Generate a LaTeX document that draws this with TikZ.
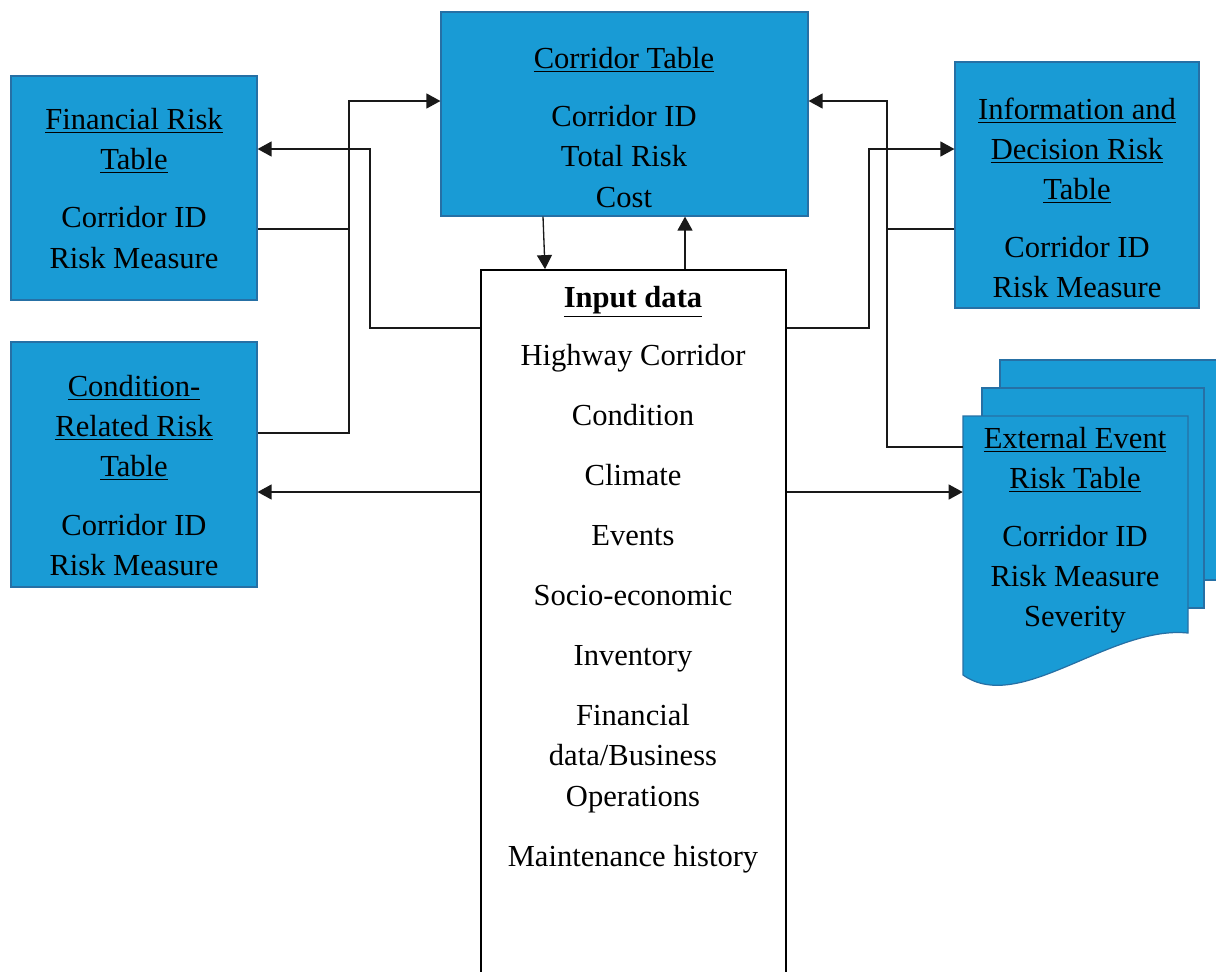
\documentclass[tikz,border=0pt]{standalone}
\usepackage{fontspec}
\setmainfont{Liberation Serif}
\usetikzlibrary{arrows.meta}
\definecolor{tblfill}{RGB}{25,155,213}
\definecolor{tbledge}{RGB}{38,112,165}
\begin{document}
\begin{tikzpicture}[x=0.02cm,y=-0.02cm,
  tbl/.style={draw=tbledge, fill=tblfill, line width=0.7pt, inner sep=0pt},
  txt/.style={align=center, font=\fontsize{17.4}{22.8}\selectfont, inner sep=0pt},
  conn/.style={draw=black!90, line width=0.75pt},
  arr/.style={conn, -{Triangle[length=0.28cm,width=0.3cm]}},
]
\useasboundingbox (0,0) rectangle (1216,971);
\clip (0,0) rectangle (1216,971);

% risk tables
\node[tbl, minimum width=4.92cm, minimum height=4.48cm] (fin) at (134,188) {};
\node[txt] (fintxt) at (134,188.5) {\underline{Financial Risk}\\\underline{Table}\\[0.36cm]Corridor ID\\Risk Measure};

\node[tbl, minimum width=4.92cm, minimum height=4.9cm] (cond) at (134,464.5) {};
\node[txt] (condtxt) at (134,475.5) {\underline{Condition-}\\\underline{Related Risk}\\\underline{Table}\\[0.36cm]Corridor ID\\Risk Measure};

\node[tbl, minimum width=7.34cm, minimum height=4.08cm] (cor) at (624.5,114) {};
\node[txt] (cortxt) at (624,127.5) {\underline{Corridor Table}\\[0.36cm]Corridor ID\\Total Risk\\Cost};

\node[tbl, minimum width=4.88cm, minimum height=4.92cm] (info) at (1077,185) {};
\node[txt] (infotxt) at (1077,198) {\underline{Information and}\\\underline{Decision Risk}\\\underline{Table}\\[0.36cm]Corridor ID\\Risk Measure};

% input data
\node[draw=black, line width=1.1pt, fill=white, minimum width=6.1cm, minimum height=14.6cm, inner sep=0pt] (inp) at (633.5,635) {};
\node[txt] (inptxt) at (633,579.5) {\textbf{\underline{Input data}}\\[0.36cm]Highway Corridor\\[0.4cm]Condition\\[0.4cm]Climate\\[0.4cm]Events\\[0.4cm]Socio-economic\\[0.4cm]Inventory\\[0.4cm]Financial\\data/Business\\Operations\\[0.4cm]Maintenance history};

% external event table: stacked pages
\path[tbl] (1000,360) rectangle (1240,580);
\path[tbl] (982,388) rectangle (1204,608);
\path[tbl] (963,416) -- (1188,416) -- (1188,633) .. controls (1110,625) and (1020,715) .. (963,675) -- cycle;
\node[minimum width=4.5cm, minimum height=5.2cm, inner sep=0pt] (ext) at (1075.5,546) {};
\node[txt] (exttxt) at (1075,530) {\underline{External Event}\\\underline{Risk Table}\\[0.36cm]Corridor ID\\Risk Measure\\Severity};

% junction points of the connectors
\coordinate (jL1) at (370,149);
\coordinate (jL2) at (349,101);
\coordinate (jL3) at (349,229);
\coordinate (jR1) at (869,149);
\coordinate (jR2) at (887,101);
\coordinate (jR3) at (887,229);
\coordinate (rowA) at (0,328);
\coordinate (rowB) at (0,492);
\coordinate (rowC) at (0,433);
\coordinate (rowD) at (0,447);
\coordinate (colA) at (543,0);
\coordinate (colB) at (545,0);
\coordinate (colC) at (685,0);

% connectors
\draw[arr] (inp.west |- rowA) -| (jL1) -- (fin.east |- jL1);
\draw[conn] (fin.east |- jL3) -- (jL3);
\draw[arr] (cond.east |- rowC) -| (jL2) -- (cor.west |- jL2);
\draw[arr] (inp.west |- rowB) -- (cond.east |- rowB);
\draw[arr] (cor.south -| colA) -- (inp.north -| colB);
\draw[arr] (inp.north -| colC) -- (cor.south -| colC);
\draw[arr] (inp.east |- rowA) -| (jR1) -- (info.west |- jR1);
\draw[conn] (info.west |- jR3) -- (jR3);
\draw[arr] (ext.west |- rowD) -| (jR2) -- (cor.east |- jR2);
\draw[arr] (inp.east |- rowB) -- (ext.west |- rowB);
\end{tikzpicture}
\end{document}
